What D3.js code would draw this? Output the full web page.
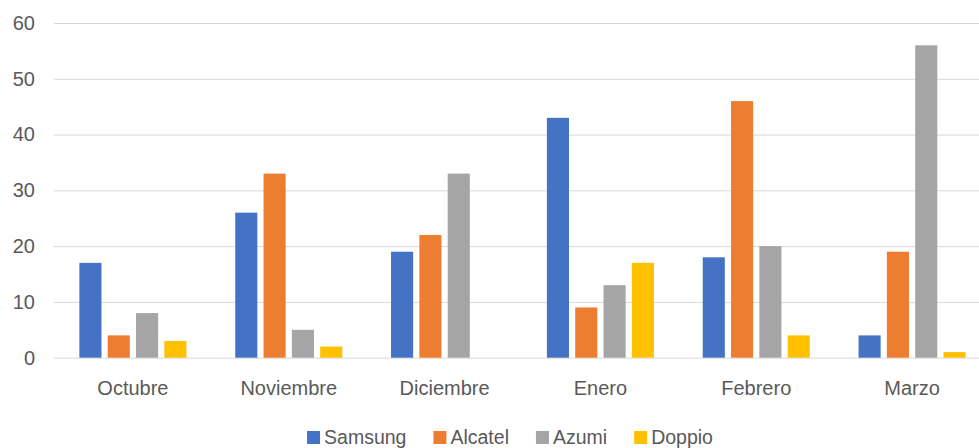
<!DOCTYPE html>
<html>
<head>
<meta charset="utf-8">
<script src="https://cdn.jsdelivr.net/npm/d3@7"></script>
<style>
  html, body { margin: 0; padding: 0; background: #fff; }
  svg { display: block; }
  text { font-family: "Liberation Sans", Arial, sans-serif; fill: #595959; }
</style>
</head>
<body>
<svg id="chart" width="979" height="448"></svg>
<script>
const categories = ["Octubre", "Noviembre", "Diciembre", "Enero", "Febrero", "Marzo"];
const seriesNames = ["Samsung", "Alcatel", "Azumi", "Doppio"];
const samsung = [17, 26, 19, 43, 18, 4];
const alcatel = [4, 33, 22, 9, 46, 19];
const azumi = [8, 5, 33, 13, 20, 56];
const doppio = [3, 2, 0, 17, 4, 1];
const yTicks = [0, 10, 20, 30, 40, 50, 60];
const colors = ["#4472C4", "#ED7D31", "#A5A5A5", "#FFC000"];

const seriesValues = [samsung, alcatel, azumi, doppio];
const svg = d3.select("#chart");

const x = d3.scaleBand().domain(categories).range([55, 990])
  .paddingInner(0.313).paddingOuter(0.1565);
const xs = d3.scaleBand().domain(seriesNames).range([0, x.bandwidth()])
  .paddingInner(0.22).paddingOuter(0);
const y = d3.scaleLinear().domain([0, 60]).range([357.7, 23]);
const color = d3.scaleOrdinal().domain(seriesNames).range(colors);

// y axis with gridlines
const yAxis = svg.append("g").attr("transform", "translate(54,0)")
  .call(d3.axisLeft(y).tickValues(yTicks).tickSize(-(990 - 54)).tickPadding(19));
yAxis.select(".domain").remove();
yAxis.selectAll(".tick line").attr("stroke", "#D9D9D9").attr("stroke-width", 1);
yAxis.selectAll(".tick text").style("font-size", "20px").attr("fill", "#595959")
  .style("font-family", "'Liberation Sans', Arial, sans-serif");

// bars
const data = [];
categories.forEach((c, i) => {
  seriesNames.forEach((s, j) => data.push({ cat: c, series: s, value: seriesValues[j][i] }));
});
svg.append("g").selectAll("rect").data(data).join("rect")
  .attr("x", d => x(d.cat) + xs(d.series))
  .attr("width", xs.bandwidth())
  .attr("y", d => y(d.value))
  .attr("height", d => y(0) - y(d.value))
  .attr("fill", d => color(d.series));

// x axis
const xAxis = svg.append("g").attr("transform", `translate(0,${y(0)})`)
  .call(d3.axisBottom(x).tickSize(0).tickPadding(23));
xAxis.select(".domain").remove();
xAxis.selectAll(".tick text").style("font-size", "20px").attr("fill", "#595959")
  .style("font-family", "'Liberation Sans', Arial, sans-serif");

// legend
const legend = svg.append("g");
const items = legend.selectAll("g").data(seriesNames).join("g");
items.append("rect").attr("width", 13).attr("height", 13).attr("y", 431)
  .attr("fill", d => color(d));
items.append("text").attr("x", 17).attr("y", 444).style("font-size", "19.5px").text(d => d);
let cx = 0;
const gap = 27;
items.each(function () {
  const w = 17 + this.querySelector("text").getComputedTextLength();
  d3.select(this).attr("transform", `translate(${cx},0)`);
  cx += w + gap;
});
const total = cx - gap;
legend.attr("transform", `translate(${510 - total / 2},0)`);
</script>
</body>
</html>
